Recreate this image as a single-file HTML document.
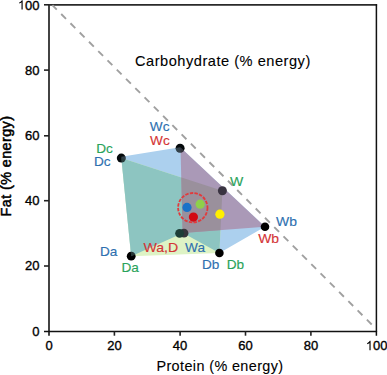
<!DOCTYPE html>
<html><head><meta charset="utf-8">
<style>
html,body{margin:0;padding:0;background:#fff;}
body{width:387px;height:375px;overflow:hidden;}
svg{display:block;}
text{font-family:"Liberation Sans",sans-serif;}
</style></head>
<body>
<svg width="387" height="375" viewBox="0 0 387 375">
<defs>
<clipPath id="redclip"><polygon points="180.5,147.6 265,226.7 182.6,233"/></clipPath>
<clipPath id="ptclip"><circle cx="121.3" cy="158.1" r="4.6"/><circle cx="180.1" cy="148.3" r="4.6"/><circle cx="131.2" cy="256.2" r="4.5"/></clipPath>
</defs>
<!-- blue polygon (blue only color) -->
<polygon points="121.3,156.8 180.1,147.2 265,226.7 219.4,253 183,233 131.2,256.2" fill="#acd0ee"/>
<!-- green polygon: pale (green only) -->
<polygon points="121.3,158.1 222.4,190.7 219.4,253 131.2,256.2" fill="#def3c5"/>
<!-- teal: blue ∩ green -->
<polygon points="121.3,158.1 222.4,190.7 219.4,253 183,233 131.2,256.2" fill="#8dc5c1"/>
<!-- red triangle: purple -->
<polygon points="180.5,147.6 265,226.7 182.6,233" fill="#aa99b7"/>
<!-- red ∩ green -->
<polygon points="121.3,158.1 222.4,190.7 219.4,253 183,233 131.2,256.2" fill="#9a909c" clip-path="url(#redclip)"/>


<!-- axes box -->
<g stroke="#222" stroke-width="1.6" fill="none">
<line x1="49" y1="4.9" x2="377.1" y2="4.9" stroke="#2a2a2a" stroke-width="1.7"/>
<line x1="376.4" y1="4.2" x2="376.4" y2="335.7" stroke="#111" stroke-width="1.5"/>
<line x1="49" y1="4.2" x2="49" y2="335.7" stroke="#2e2e2e" stroke-width="1.8"/>
<line x1="44" y1="331.4" x2="377.1" y2="331.4" stroke="#111" stroke-width="1.5"/>
<!-- y ticks -->
<line x1="44" y1="4.8" x2="49" y2="4.8"/>
<line x1="44" y1="70.1" x2="49" y2="70.1"/>
<line x1="44" y1="135.8" x2="49" y2="135.8"/>
<line x1="44" y1="200.7" x2="49" y2="200.7"/>
<line x1="44" y1="266" x2="49" y2="266"/>
<!-- x ticks -->
<line x1="114.4" y1="331.4" x2="114.4" y2="335.7"/>
<line x1="180.1" y1="331.4" x2="180.1" y2="335.7"/>
<line x1="245.5" y1="331.4" x2="245.5" y2="335.7"/>
<line x1="310.9" y1="331.4" x2="310.9" y2="335.7"/>
</g>

<!-- dashed diagonal -->
<line x1="52.4" y1="5.2" x2="376" y2="328.8" stroke="#a0a0a0" stroke-width="1.9" stroke-dasharray="6.8,6.3" stroke-dashoffset="0.65"/>
<!-- y tick labels -->
<g font-size="13" fill="#000" stroke="#000" stroke-width="0.35" text-anchor="end">
<text x="39.5" y="9.5">00</text><path transform="translate(17.81,9.5) scale(0.006348,-0.006348)" d="M763 0H583V1147Q518 1085 412 1023Q306 961 221 930V1104Q372 1175 485 1276Q598 1377 645 1472H763Z"/>
<text x="39.5" y="74.5">80</text>
<text x="39.5" y="140.2">60</text>
<text x="39.5" y="205.1">40</text>
<text x="39.5" y="270.4">20</text>
<text x="39.5" y="335.8">0</text>
</g>
<!-- x tick labels -->
<g font-size="13" fill="#000" stroke="#000" stroke-width="0.35" text-anchor="middle">
<text x="49" y="350.2">0</text>
<text x="114.4" y="350.2">20</text>
<text x="180.1" y="350.2">40</text>
<text x="245.5" y="350.2">60</text>
<text x="310.9" y="350.2">80</text>
<text x="380.22" y="350.2">00</text><path transform="translate(365.75,350.2) scale(0.006348,-0.006348)" d="M763 0H583V1147Q518 1085 412 1023Q306 961 221 930V1104Q372 1175 485 1276Q598 1377 645 1472H763Z"/>
</g>
<text x="156.4" y="370.7" font-size="14.4" letter-spacing="0.4" fill="#000" stroke="#000" stroke-width="0.1">Protein (% energy)</text>
<text transform="translate(10.8,166) rotate(-90)" font-size="14.4" letter-spacing="0.4" fill="#000" stroke="#000" stroke-width="0.5" text-anchor="middle">Fat (% energy)</text>
<text x="135" y="66.4" font-size="14.6" letter-spacing="0.52" fill="#000" stroke="#000" stroke-width="0.1">Carbohydrate (% energy)</text>

<!-- circle group -->
<circle cx="192.8" cy="207.7" r="14.7" fill="none" stroke="#e23a3c" stroke-width="1.8" stroke-dasharray="3.4,1.3"/>
<circle cx="187" cy="207.4" r="4.6" fill="#1a72c8"/>
<circle cx="200.2" cy="204.2" r="4.6" fill="#8ed04a"/>
<circle cx="193.4" cy="217.1" r="4.6" fill="#d20a14"/>
<circle cx="219.9" cy="214.2" r="4.6" fill="#fff000"/>

<!-- vertex points -->
<circle cx="121.3" cy="158.1" r="4.5" fill="#050a0c"/>
<circle cx="180.1" cy="148.3" r="4.5" fill="#050a0c"/>
<circle cx="222.4" cy="190.7" r="4.5" fill="#3a3442"/>
<circle cx="265" cy="226.7" r="4.3" fill="#000"/>
<circle cx="219.4" cy="253" r="4.3" fill="#000"/>
<circle cx="131.2" cy="256.2" r="4.4" fill="#000"/>
<circle cx="184" cy="233.2" r="4.4" fill="#36363c"/>
<circle cx="179.6" cy="233.3" r="4.4" fill="#1e3f38"/>

<g clip-path="url(#ptclip)" opacity="0.28">
<polygon points="121.3,156.8 180.1,147.2 265,226.7 219.4,253 183,233 131.2,256.2" fill="#acd0ee"/>
<polygon points="121.3,158.1 222.4,190.7 219.4,253 183,233 131.2,256.2" fill="#8dc5c1"/>
<polygon points="180.5,147.6 265,226.7 182.6,233" fill="#aa99b7"/>
</g>
<!-- labels -->
<g font-size="13.6">
<text x="149.8" y="130.9" fill="#2e70b0" stroke="#2e70b0" stroke-width="0.15">Wc</text>
<text x="150.1" y="145.3" fill="#d43436" stroke="#d43436" stroke-width="0.15">Wc</text>
<text x="96.2" y="153.2" fill="#2aa35a" stroke="#2aa35a" stroke-width="0.15">Dc</text>
<text x="93.9" y="166.4" fill="#2e70b0" stroke="#2e70b0" stroke-width="0.15">Dc</text>
<text x="230.1" y="186" fill="#2aa35a" stroke="#2aa35a" stroke-width="0.15" textLength="13.3" lengthAdjust="spacingAndGlyphs">W</text>
<text x="276" y="226.4" fill="#2e70b0" stroke="#2e70b0" stroke-width="0.15" textLength="20.9" lengthAdjust="spacingAndGlyphs">Wb</text>
<text x="258.2" y="242.6" fill="#d43436" stroke="#d43436" stroke-width="0.15" textLength="20.9" lengthAdjust="spacingAndGlyphs">Wb</text>
<text x="100" y="256.3" fill="#2e70b0" stroke="#2e70b0" stroke-width="0.15">Da</text>
<text x="121.4" y="272.3" fill="#2aa35a" stroke="#2aa35a" stroke-width="0.15">Da</text>
<text x="143.4" y="252" fill="#d43436" stroke="#d43436" stroke-width="0.15" textLength="34.8" lengthAdjust="spacingAndGlyphs">Wa,D</text>
<text x="185.1" y="252" fill="#2e70b0" stroke="#2e70b0" stroke-width="0.15">Wa</text>
<text x="202" y="268.5" fill="#2e70b0" stroke="#2e70b0" stroke-width="0.15">Db</text>
<text x="226.7" y="268.8" fill="#2aa35a" stroke="#2aa35a" stroke-width="0.15">Db</text>
</g>
</svg>
</body></html>
